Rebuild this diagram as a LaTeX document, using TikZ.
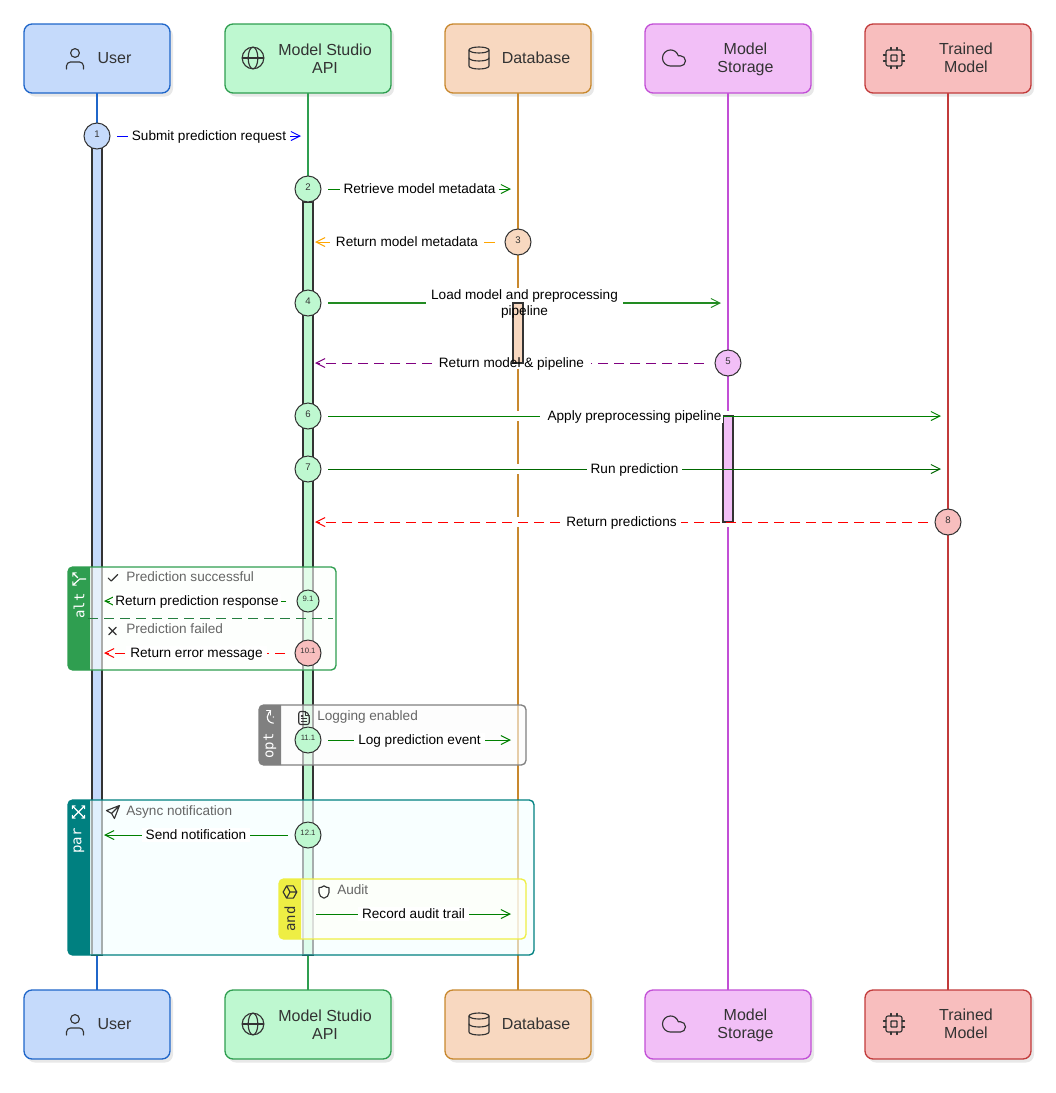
\documentclass[tikz,border=0pt]{standalone}
\usepackage{fontspec}
\setmainfont{Liberation Sans}
\newfontfamily\tabfont{DejaVu Sans Mono}
\usetikzlibrary{arrows.meta}
\pgfdeclarelayer{back}\pgfdeclarelayer{halo}\pgfdeclarelayer{bars}\pgfdeclarelayer{frames}\pgfdeclarelayer{front}
\pgfsetlayers{back,halo,bars,main,frames,front}
\definecolor{uF}{HTML}{C5DAFB}\definecolor{uD}{HTML}{1F66C9}
\definecolor{aF}{HTML}{BEF8D0}\definecolor{aD}{HTML}{2F9E50}
\definecolor{dF}{HTML}{F8D8C0}\definecolor{dD}{HTML}{C8882E}
\definecolor{sF}{HTML}{F2BFF7}\definecolor{sD}{HTML}{C24FD6}
\definecolor{tF}{HTML}{F8BEBE}\definecolor{tD}{HTML}{C23B3B}
\definecolor{ink}{HTML}{333333}
\definecolor{fgray}{HTML}{808080}\definecolor{fteal}{HTML}{008080}\definecolor{fyel}{HTML}{EEEE44}
\definecolor{mgreen}{HTML}{008000}\definecolor{mforest}{HTML}{228B22}\definecolor{morange}{HTML}{FFA500}\definecolor{mpurple}{HTML}{800080}
\definecolor{faltF}{HTML}{FBFFFB}\definecolor{foptF}{HTML}{FBFBFB}\definecolor{fparF}{HTML}{F3FFFF}\definecolor{fandF}{HTML}{FFFFF8}
\newcommand\nm[1]{\raisebox{3.4pt}{\fontsize{7.2pt}{7.2pt}\selectfont #1}}
\newcommand\nms[1]{\raisebox{3.4pt}{\fontsize{5.8pt}{6pt}\selectfont #1}}
\tikzset{
  actorbox/.style={draw=#1D,fill=#1F,rounded corners=6pt,line width=1pt,minimum height=51.75pt,outer sep=0pt,inner sep=0pt},
  shadowbox/.style={fill=black!9,rounded corners=6pt},
  wideu/.style={minimum width=109.5pt},
  widea/.style={minimum width=124.5pt},
  actortext/.style={text=ink,font=\fontsize{12pt}{13.5pt}\selectfont,align=center,inner sep=0pt},
  life/.style={draw=#1D,line width=1.5pt},
  barbox/.style={draw=ink,fill=#1F,line width=1.5pt},
  num/.style={circle,draw=ink,fill=#1F,line width=.75pt,minimum size=19.5pt,inner sep=0pt,outer sep=5.25pt,text=ink},
  msgline/.style={line width=.75pt,-{Straight Barb[length=6.75pt,width=6.75pt,line width=.75pt]}},
  haloline/.style={draw=white,line width=7.5pt},
  dashline/.style={dash pattern=on 7.5pt off 4.5pt},
  msgbase/.style={fill=white,text=black,font=\fontsize{10.2pt}{11.5pt}\selectfont,inner xsep=3pt,inner ysep=0pt,align=center},
  msglabel/.style={msgbase,text height=8pt,text depth=2pt},
  labelmask/.style={fill=white,inner sep=0pt},
  framebox/.style={draw=#1,line width=1pt,rounded corners=3.5pt},
  framelabel/.style={text=ink!75,font=\fontsize{10.2pt}{12pt}\selectfont,anchor=base west,inner sep=0pt},
  tabtext/.style={rotate=90,font=\tabfont\fontsize{10.5pt}{12pt}\selectfont,inner sep=0pt},
  iconline/.style={draw=#1,line width=.85pt,line cap=round,line join=round,fill=none},
  iconline/.default=ink,
  pics/usericon/.style={code={\begin{scope}[shift={(-12,-12)}]
     \draw[iconline] (12,7) circle[radius=4.4];
     \draw[iconline,rounded corners=3pt] (3.5,23) -- (3.5,16) -- (20.5,16) -- (20.5,23);\end{scope}}},
  pics/globeicon/.style={code={\begin{scope}[shift={(-12,-12)}]
     \draw[iconline] (12,12) circle[radius=10];
     \draw[iconline] (12,12) ellipse[x radius=4.5,y radius=10];
     \draw[iconline] (2,12) -- (22,12);\end{scope}}},
  pics/dbicon/.style={code={\begin{scope}[shift={(-12,-12)}]
     \draw[iconline] (12,4) ellipse[x radius=10,y radius=3];
     \draw[iconline] (2,4) -- (2,20) arc[start angle=180,end angle=0,x radius=10,y radius=3] -- (22,4);
     \draw[iconline] (2,12) arc[start angle=180,end angle=0,x radius=10,y radius=3];\end{scope}}},
  pics/cloudicon/.style={code={\begin{scope}[shift={(-12,-12)}]
     \draw[iconline] (17.5,19) -- (9,19) arc[start angle=90,end angle=343.4,radius=7] -- (17.5,10) arc[start angle=-90,end angle=90,radius=4.5] -- cycle;\end{scope}}},
  pics/chipicon/.style={code={\begin{scope}[shift={(-12,-12)}]
     \draw[iconline,rounded corners=1.5pt] (4,4) rectangle (20,20);
     \draw[iconline,line width=1.1pt,rounded corners=.5pt] (9,9) rectangle (15,15);
     \draw[iconline] (9,1.5)--(9,4) (15,1.5)--(15,4) (9,20)--(9,22.5) (15,20)--(15,22.5) (1.5,9)--(4,9) (1.5,15)--(4,15) (20,9)--(22.5,9) (20,15)--(22.5,15);\end{scope}}},
  pics/checkicon/.style={code={\begin{scope}[shift={(-12,-12)}]
     \draw[iconline] (20,6) -- (9,17) -- (4,12);\end{scope}}},
  pics/xicon/.style={code={\begin{scope}[shift={(-12,-12)}]
     \draw[iconline] (18,6) -- (6,18) (6,6) -- (18,18);\end{scope}}},
  pics/fileicon/.style={code={\begin{scope}[shift={(-12,-12)}]
     \draw[iconline,rounded corners=1.5pt] (15,2) -- (4,2) -- (4,22) -- (20,22) -- (20,7) -- cycle;
     \draw[iconline] (14,2) -- (14,8) -- (20,8) (8,9) -- (10,9) (8,13) -- (16,13) (8,17) -- (16,17);\end{scope}}},
  pics/sendicon/.style={code={\begin{scope}[shift={(-12,-12)}]
     \draw[iconline] (21,3) -- (3,10) -- (10,14) -- (14,21) -- cycle (21,3) -- (10,14);\end{scope}}},
  pics/shieldicon/.style={code={\begin{scope}[shift={(-12,-12)}]
     \draw[iconline] (12,2) .. controls (14.5,4) and (17,5) .. (20,5) -- (20,13) .. controls (20,18) and (16.5,20.5) .. (12,22) .. controls (7.5,20.5) and (4,18) .. (4,13) -- (4,5) .. controls (7,5) and (9.5,4) .. (12,2) -- cycle;\end{scope}}},
  pics/splicon/.style={code={\begin{scope}[shift={(-12,-12)}]
     \draw[iconline=white] (16,3) -- (21,3) -- (21,8) (8,3) -- (3,3) -- (3,8) (21,3) -- (14,10) (3,3) -- (12,13) -- (12,22);\end{scope}}},
  pics/redoicon/.style={code={\begin{scope}[shift={(-12,-12)}]
     \draw[iconline=white] (3,17) .. controls (3,12) and (7,8) .. (12,8) .. controls (14.3,8) and (16.4,8.9) .. (18,10.3) -- (21,13);
     \draw[iconline=white] (21,7) -- (21,13) -- (15,13);
     \fill[white] (12,17) circle[radius=1];\end{scope}}},
  pics/crossicon/.style={code={\begin{scope}[shift={(-12,-12)}]
     \draw[iconline=white] (3,3) -- (21,21) (3,21) -- (21,3) (17,3) -- (21,3) -- (21,7) (17,21) -- (21,21) -- (21,17) (7,3) -- (3,3) -- (3,7) (7,21) -- (3,21) -- (3,17);\end{scope}}},
  pics/boxicon/.style={code={\begin{scope}[shift={(-12,-12)}]
     \draw[iconline] (12,2) -- (21,7) -- (21,17) -- (12,22) -- (3,17) -- (3,7) -- cycle (3,7) -- (12,12) -- (21,7) (12,12) -- (12,22);\end{scope}}},
}
\begin{document}
\begin{tikzpicture}[x=.75pt,y=-.75pt]
\useasboundingbox (0,0) rectangle (1056,1093);
% ---- actors
\begin{pgfonlayer}{front}
\node[actorbox=u,wideu] (u) at (97,58.5) {};
\node[actorbox=a,widea] (a) at (308,58.5) {};
\node[actorbox=d,wideu] (d) at (518,58.5) {};
\node[actorbox=s,widea] (s) at (728,58.5) {};
\node[actorbox=t,widea] (t) at (948,58.5) {};
\node[actorbox=u,wideu] (ub) at (97,1024.5) {};
\node[actorbox=a,widea] (ab) at (308,1024.5) {};
\node[actorbox=d,wideu] (db) at (518,1024.5) {};
\node[actorbox=s,widea] (sb) at (728,1024.5) {};
\node[actorbox=t,widea] (tb) at (948,1024.5) {};
\foreach \yy/\where in {58/top,1024/bot}{
  \node[actortext,yshift=-.2pt] (ut\where) at (114.5,\yy) {User};
  \node[actortext,yshift=-.2pt] (at\where) at (325,\yy) {Model Studio\\API};
  \node[actortext,yshift=-.2pt] (dt\where) at (536,\yy) {Database};
  \node[actortext,yshift=-.9pt] (st\where) at (745.5,\yy) {Model\\Storage};
  \node[actortext,yshift=-.2pt] (tt\where) at (966,\yy) {Trained\\Model};
  \pic at (75,\yy) {usericon};
  \pic[scale=1.08] at (253,\yy) {globeicon};
  \pic at (479,\yy) {dbicon};
  \pic[scale=1.15] at (674,\yy) {cloudicon};
  \pic at (894,\yy) {chipicon};
}
% ---- numbered circles
\node[num=u] (c1) at (97,136) {\nm{1}};
\node[num=a] (c2) at (308,189) {\nm{2}};
\node[num=d,outer sep=7.5pt] (c3) at (518,242) {\nm{3}};
\node[num=a] (c4) at (308,303) {\nm{4}};
\node[num=s,outer sep=8.25pt] (c5) at (728,363) {\nm{5}};
\node[num=a] (c6) at (308,416) {\nm{6}};
\node[num=a] (c7) at (308,469) {\nm{7}};
\node[num=t] (c8) at (948,522) {\nm{8}};
\node[num=a,minimum size=16.5pt,outer sep=8.25pt] (c9) at (308,601) {\nms{9.1}};
\node[num=t,outer sep=7.5pt] (c10) at (308,653) {\nms{10.1}};
\node[num=a] (c11) at (308,740) {\nms{11.1}};
\node[num=a] (c12) at (308,835) {\nms{12.1}};
\end{pgfonlayer}
% ---- shadows and lifelines
\begin{pgfonlayer}{back}
\foreach \who in {u,a,d,s,t,ub,ab,db,sb,tb}{
  \fill[shadowbox] ([shift={(3,3.5)}]\who.south west) rectangle ([shift={(3,3.5)}]\who.north east);
}
\draw[life=u,line width=1pt] (u.south) -- (ub.north);
\draw[life=a] (a.south) -- (ab.north);
\draw[life=d] (d.south) -- (db.north);
\draw[life=s] (s.south) -- (sb.north);
\draw[life=t] (t.south) -- (tb.north);
\end{pgfonlayer}
% ---- activation bars
\begin{pgfonlayer}{bars}
\draw[barbox=u,line width=.85pt] (92,148) rectangle (102,955);
\draw[barbox=a] (303,202) rectangle (313,955);
\draw[barbox=s] (723,416) rectangle (733,522);
\end{pgfonlayer}
% ---- message ends
\coordinate (e1) at (301,136);
\coordinate (e2) at (511,189);
\coordinate (e3) at (315,242);
\coordinate (e4) at (721,303);
\coordinate (e5) at (315,363);
\coordinate (e6) at (941,416);
\coordinate (e7) at (941,469);
\coordinate (e8) at (315,522);
\coordinate (e9) at (104,601);
\coordinate (e10) at (104,653);
\coordinate (e11) at (511,740);
\coordinate (e12) at (104,835);
\coordinate (s13) at (316,914);
\coordinate (e13) at (511,914);
% ---- messages
\begin{pgfonlayer}{halo}
\draw[haloline] (c4) -- (e4);
\draw[haloline] (c5) -- (e5);
\draw[haloline] (c6) -- (e6);
\draw[haloline] (c7) -- (e7);
\draw[haloline] (c8) -- (e8);
\end{pgfonlayer}
\draw[msgline,blue] (c1) -- (e1);
\draw[msgline,mgreen] (c2) -- (e2);
\draw[msgline,morange] (c3) -- (e3);
\draw[msgline,mforest,line width=1.5pt] (c4) -- (e4);
\draw[msgline,mpurple,dashline] (c5) -- (e5);
\draw[msgline,mgreen] (c6) -- (e6);
\draw[msgline,mgreen!80!black] (c7) -- (e7);
\draw[msgline,red,dashline] (c8) -- (e8);
% ---- frames
\begin{pgfonlayer}{frames}
\draw[framebox=aD,fill=faltF,fill opacity=.6] (68,567) rectangle (336,670);
\fill[aD] (79,567) [sharp corners] -- (90,567) -- (90,670) [rounded corners=3.5pt] -- (68,670) -- (68,567) -- cycle;
\draw[aD!80!black,line width=.75pt,dashline] (88,618) -- (333,618);
\draw[framebox=fgray,fill=foptF,fill opacity=.6] (259,705) rectangle (526,765);
\fill[fgray] (270,705) [sharp corners] -- (281,705) -- (281,765) [rounded corners=3.5pt] -- (259,765) -- (259,705) -- cycle;
\draw[framebox=fteal,fill=fparF,fill opacity=.6] (68,800) rectangle (534,955);
\fill[fteal] (79,800) [sharp corners] -- (90,800) -- (90,955) [rounded corners=3.5pt] -- (68,955) -- (68,800) -- cycle;
\draw[framebox=fyel,fill=fandF,fill opacity=.6] (279,879) rectangle (526,939);
\fill[fyel] (290,879) [sharp corners] -- (301,879) -- (301,939) [rounded corners=3.5pt] -- (279,939) -- (279,879) -- cycle;
\node[tabtext,text=white] (altt) at (79,606) {alt};
\node[tabtext,text=white] (optt) at (270,746) {opt};
\node[tabtext,text=white] (part) at (79,841) {par};
\node[tabtext,text=ink] (andt) at (290,919) {and};
\pic[rotate=90,scale=.68] at (79,579) {splicon};
\pic[rotate=90,scale=.68] at (270,717) {redoicon};
\pic[scale=.68] at (78.5,812) {crossicon};
\pic[rotate=90,scale=.68] at (290,892) {boxicon};
\draw[msgline,mgreen,dashline] (c9) -- (e9);
\draw[msgline,red,dashline] (c10) -- (e10);
\draw[msgline,mgreen] (c11) -- (e11);
\draw[msgline,mgreen] (c12) -- (e12);
\draw[msgline,mgreen] (s13) -- (e13);
\end{pgfonlayer}
% ---- labels
\begin{pgfonlayer}{front}
\path (c1) -- node[msglabel] (l1) {Submit prediction request} (e1);
\path (c2) -- node[msglabel] (l2) {Retrieve model metadata} (e2);
\path (c3) -- node[msglabel,xshift=1.5pt,inner xsep=4.5pt] (l3) {Return model metadata} (e3);
\node[labelmask,minimum width=147.75pt,minimum height=11.6pt] (l4bg) at (524.5,295.8) {};
\node[labelmask,minimum width=118pt,minimum height=10pt] (l5bg) at (512,362) {};
\draw[barbox=d] (513,303) rectangle (523,363);
\path (c4) -- node[msgbase,fill=none,yshift=-.8pt] (l4) {Load model and preprocessing\\pipeline} (e4);
\path (c5) -- node[msglabel,fill=none,xshift=1.5pt] (l5) {Return model \& pipeline} (e5);
\path (c6) -- node[msglabel,inner xsep=1pt,xshift=-2.5pt] (l6) {\hspace*{5pt}Apply preprocessing pipeline} (e6);
\path (c7) -- node[msglabel] (l7) {Run prediction} (e7);
\path (c8) -- node[msglabel] (l8) {Return predictions} (e8);
\path (c9) -- node[msglabel,xshift=1.5pt,inner xsep=2pt] (l9) {Return prediction response} (e9);
\path (c10) -- node[msglabel,xshift=1.5pt] (l10) {Return error message} (e10);
\path (c11) -- node[msglabel] (l11) {Log prediction event} (e11);
\path (c12) -- node[msglabel] (l12) {Send notification} (e12);
\path (s13) -- node[msglabel] (l13) {Record audit trail} (e13);
\node[framelabel] (f1) at (126,581) {Prediction successful};
\node[framelabel] (f2) at (126,633) {Prediction failed};
\node[framelabel] (f3) at (317,720) {Logging enabled};
\node[framelabel] (f4) at (126,815) {Async notification};
\node[framelabel] (f5) at (337,894) {Audit};
\pic[scale=.6] at (113,578) {checkicon};
\pic[scale=.62] at (112.5,631) {xicon};
\pic[scale=.65] at (304,718) {fileicon};
\pic[scale=.72] at (113,812) {sendicon};
\pic[scale=.62] at (324,892) {shieldicon};
\end{pgfonlayer}
\end{tikzpicture}
\end{document}
